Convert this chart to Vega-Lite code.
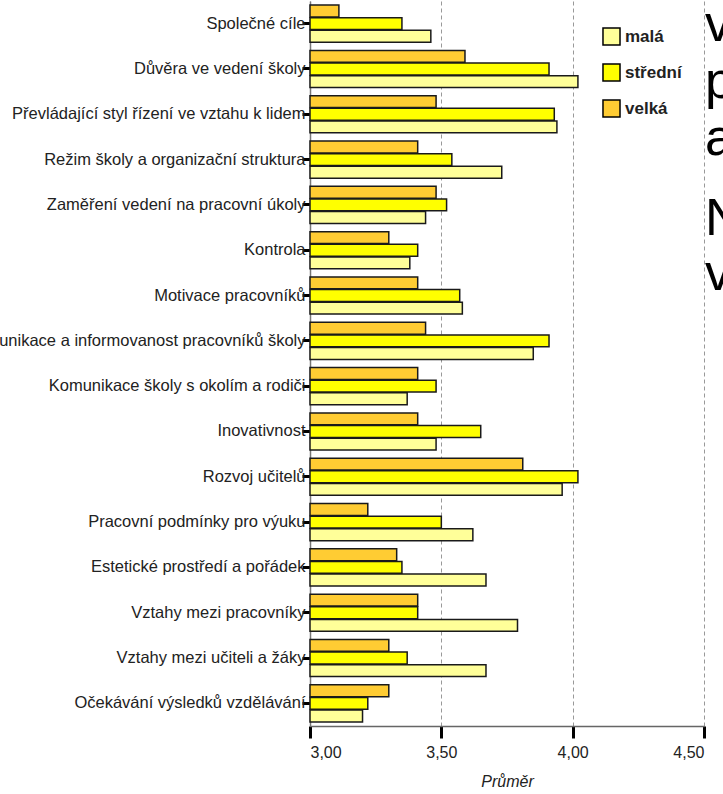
{
  "$schema": "https://vega.github.io/schema/vega-lite/v6.json",
  "width": 394,
  "height": 725,
  "autosize": {"type": "none"},
  "padding": {"left": 310, "top": 1, "right": 19, "bottom": 68},
  "background": "white",
  "config": {"view": {"stroke": null}, "font": "Liberation Sans"},
  "title": {
    "text": ["v", "p", "a"],
    "subtitle": ["N", "v"],
    "anchor": "end",
    "frame": "group",
    "align": "left",
    "orient": "top",
    "font": "Liberation Sans",
    "fontSize": 52,
    "fontWeight": "normal",
    "color": "black",
    "lineHeight": 57,
    "subtitleFont": "Liberation Sans",
    "subtitleFontSize": 52,
    "subtitleColor": "black",
    "subtitleLineHeight": 55,
    "subtitlePadding": 28,
    "dx": 1,
    "offset": -300
  },
  "data": {
    "values": [
      {"oblast": "Společné cíle", "velikost": "malá", "prumer": 3.46},
      {"oblast": "Společné cíle", "velikost": "střední", "prumer": 3.35},
      {"oblast": "Společné cíle", "velikost": "velká", "prumer": 3.11},
      {"oblast": "Důvěra ve vedení školy", "velikost": "malá", "prumer": 4.02},
      {"oblast": "Důvěra ve vedení školy", "velikost": "střední", "prumer": 3.91},
      {"oblast": "Důvěra ve vedení školy", "velikost": "velká", "prumer": 3.59},
      {"oblast": "Převládající styl řízení ve vztahu k lidem", "velikost": "malá", "prumer": 3.94},
      {"oblast": "Převládající styl řízení ve vztahu k lidem", "velikost": "střední", "prumer": 3.93},
      {"oblast": "Převládající styl řízení ve vztahu k lidem", "velikost": "velká", "prumer": 3.48},
      {"oblast": "Režim školy a organizační struktura", "velikost": "malá", "prumer": 3.73},
      {"oblast": "Režim školy a organizační struktura", "velikost": "střední", "prumer": 3.54},
      {"oblast": "Režim školy a organizační struktura", "velikost": "velká", "prumer": 3.41},
      {"oblast": "Zaměření vedení na pracovní úkoly", "velikost": "malá", "prumer": 3.44},
      {"oblast": "Zaměření vedení na pracovní úkoly", "velikost": "střední", "prumer": 3.52},
      {"oblast": "Zaměření vedení na pracovní úkoly", "velikost": "velká", "prumer": 3.48},
      {"oblast": "Kontrola", "velikost": "malá", "prumer": 3.38},
      {"oblast": "Kontrola", "velikost": "střední", "prumer": 3.41},
      {"oblast": "Kontrola", "velikost": "velká", "prumer": 3.30},
      {"oblast": "Motivace pracovníků", "velikost": "malá", "prumer": 3.58},
      {"oblast": "Motivace pracovníků", "velikost": "střední", "prumer": 3.57},
      {"oblast": "Motivace pracovníků", "velikost": "velká", "prumer": 3.41},
      {"oblast": "Komunikace a informovanost pracovníků školy", "velikost": "malá", "prumer": 3.85},
      {"oblast": "Komunikace a informovanost pracovníků školy", "velikost": "střední", "prumer": 3.91},
      {"oblast": "Komunikace a informovanost pracovníků školy", "velikost": "velká", "prumer": 3.44},
      {"oblast": "Komunikace školy s okolím a rodiči", "velikost": "malá", "prumer": 3.37},
      {"oblast": "Komunikace školy s okolím a rodiči", "velikost": "střední", "prumer": 3.48},
      {"oblast": "Komunikace školy s okolím a rodiči", "velikost": "velká", "prumer": 3.41},
      {"oblast": "Inovativnost", "velikost": "malá", "prumer": 3.48},
      {"oblast": "Inovativnost", "velikost": "střední", "prumer": 3.65},
      {"oblast": "Inovativnost", "velikost": "velká", "prumer": 3.41},
      {"oblast": "Rozvoj učitelů", "velikost": "malá", "prumer": 3.96},
      {"oblast": "Rozvoj učitelů", "velikost": "střední", "prumer": 4.02},
      {"oblast": "Rozvoj učitelů", "velikost": "velká", "prumer": 3.81},
      {"oblast": "Pracovní podmínky pro výuku", "velikost": "malá", "prumer": 3.62},
      {"oblast": "Pracovní podmínky pro výuku", "velikost": "střední", "prumer": 3.50},
      {"oblast": "Pracovní podmínky pro výuku", "velikost": "velká", "prumer": 3.22},
      {"oblast": "Estetické prostředí a pořádek", "velikost": "malá", "prumer": 3.67},
      {"oblast": "Estetické prostředí a pořádek", "velikost": "střední", "prumer": 3.35},
      {"oblast": "Estetické prostředí a pořádek", "velikost": "velká", "prumer": 3.33},
      {"oblast": "Vztahy mezi pracovníky", "velikost": "malá", "prumer": 3.79},
      {"oblast": "Vztahy mezi pracovníky", "velikost": "střední", "prumer": 3.41},
      {"oblast": "Vztahy mezi pracovníky", "velikost": "velká", "prumer": 3.41},
      {"oblast": "Vztahy mezi učiteli a žáky", "velikost": "malá", "prumer": 3.67},
      {"oblast": "Vztahy mezi učiteli a žáky", "velikost": "střední", "prumer": 3.37},
      {"oblast": "Vztahy mezi učiteli a žáky", "velikost": "velká", "prumer": 3.30},
      {"oblast": "Očekávání výsledků vzdělávání", "velikost": "malá", "prumer": 3.20},
      {"oblast": "Očekávání výsledků vzdělávání", "velikost": "střední", "prumer": 3.22},
      {"oblast": "Očekávání výsledků vzdělávání", "velikost": "velká", "prumer": 3.30}
    ]
  },
  "mark": {"type": "bar", "stroke": "#1a1a1a", "strokeWidth": 1.5},
  "encoding": {
    "y": {
      "field": "oblast",
      "type": "nominal",
      "sort": null,
      "scale": {"paddingInner": 0.18, "paddingOuter": 0.09},
      "axis": {
        "title": null,
        "domainColor": "#777777",
        "domainWidth": 1.5,
        "tickColor": "black",
        "tickWidth": 3,
        "tickSize": 8,
        "labelFontSize": 16.5,
        "labelColor": "#222222",
        "labelPadding": -3,
        "labelLimit": 0
      }
    },
    "yOffset": {
      "field": "velikost",
      "type": "nominal",
      "sort": ["velká", "střední", "malá"],
      "scale": {"paddingInner": 0.06}
    },
    "x": {
      "field": "prumer",
      "type": "quantitative",
      "scale": {"domain": [3, 4.5], "nice": false, "zero": false},
      "axis": {
        "title": "Průměr",
        "titleFontStyle": "italic",
        "titleFontWeight": "normal",
        "titleFontSize": 16,
        "titleColor": "#222222",
        "titlePadding": 13,
        "values": [3, 3.5, 4, 4.5],
        "labelExpr": "replace(format(datum.value, '.2f'), '.', ',')",
        "labelFontSize": 16,
        "labelColor": "#222222",
        "labelPadding": 6,
        "grid": true,
        "gridDash": [4, 3],
        "gridColor": "#999999",
        "gridWidth": 1,
        "domainColor": "#666666",
        "domainWidth": 1.5,
        "tickColor": "black",
        "tickWidth": 3,
        "tickSize": 12
      }
    },
    "x2": {"datum": 3},
    "color": {
      "field": "velikost",
      "type": "nominal",
      "scale": {"domain": ["malá", "střední", "velká"], "range": ["#FFFF99", "#FFFF00", "#FFCC33"]},
      "legend": {
        "orient": "none",
        "legendX": 292,
        "legendY": 26,
        "title": null,
        "padding": 0,
        "symbolType": "square",
        "symbolSize": 290,
        "symbolStrokeColor": "black",
        "symbolStrokeWidth": 1.5,
        "labelFontSize": 17,
        "labelFontWeight": "bold",
        "labelColor": "#222222",
        "labelOffset": 4,
        "rowPadding": 11
      }
    }
  }
}
